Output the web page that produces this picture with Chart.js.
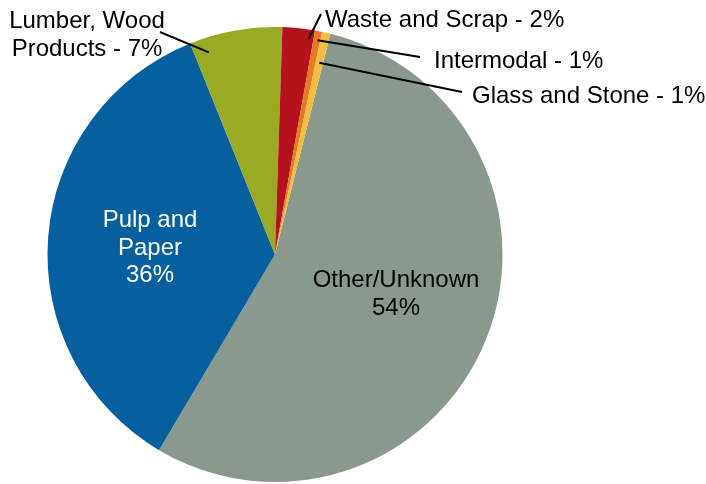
<!DOCTYPE html>
<html>
<head>
<meta charset="utf-8">
<script src="https://cdn.jsdelivr.net/npm/chart.js@4/dist/chart.umd.min.js"></script>
<style>
  html, body { margin: 0; padding: 0; background: #fff; }
  #wrap { width: 706px; height: 484px; }
</style>
</head>
<body>
<div id="wrap"><canvas id="graficoPizza"></canvas></div>
<script>
// categorias e valores (percentual)
const categorias = ["Other/Unknown", "Pulp and Paper", "Lumber, Wood Products", "Waste and Scrap", "Intermodal", "Glass and Stone"];
const valores = [54.6, 35.4, 6.6, 2.3, 0.5, 0.6];
const rotulos = ["54%", "36%", "7%", "2%", "1%", "1%"];
const cores = ["#8A998D", "#0660A0", "#9AAA22", "#B5121D", "#E8791E", "#F2BE3C"];

const FONTE = '24px "Liberation Sans", Arial, sans-serif';

// posicao dos textos (x, linhas de base) e ancora da linha guia no setor
const rotulosCfg = [
  { lines: ["Other/Unknown", "54%"], x: 396, y: 287, align: "center", color: "#000" },
  { lines: ["Pulp and", "Paper", "36%"], x: 150, y: 227, align: "center", color: "#fff" },
  { lines: ["Lumber, Wood", "Products - 7%"], x: 87, y: 28, align: "center", color: "#000",
    leader: { frac: 0.16, r: 0.935, to: [160, 32] } },
  { lines: ["Waste and Scrap - 2%"], x: 325, y: 27, align: "left", color: "#000",
    leader: { frac: 0.85, r: 0.96, to: [321, 14] } },
  { lines: ["Intermodal - 1%"], x: 434, y: 68, align: "left", color: "#000",
    leader: { frac: 0.6, r: 0.96, to: [420, 57] } },
  { lines: ["Glass and Stone - 1%"], x: 472, y: 103, align: "left", color: "#000",
    leader: { frac: 0.5, r: 0.865, to: [462, 92] } },
];

const rotulosPlugin = {
  id: "rotulos",
  afterDatasetsDraw(chart) {
    const ctx = chart.ctx;
    const arcs = chart.getDatasetMeta(0).data;
    ctx.save();
    ctx.font = FONTE;
    rotulosCfg.forEach((c, i) => {
      if (c.leader) {
        const a = arcs[i];
        const p = a.getProps(["x", "y", "startAngle", "endAngle", "outerRadius"], true);
        const ang = p.startAngle + (p.endAngle - p.startAngle) * c.leader.frac;
        const r = p.outerRadius * c.leader.r;
        ctx.beginPath();
        ctx.moveTo(p.x + Math.cos(ang) * r, p.y + Math.sin(ang) * r);
        ctx.lineTo(c.leader.to[0], c.leader.to[1]);
        ctx.strokeStyle = "#000";
        ctx.lineWidth = 2;
        ctx.stroke();
      }
      ctx.fillStyle = c.color;
      ctx.textAlign = c.align;
      ctx.textBaseline = "alphabetic";
      c.lines.forEach((t, k) => ctx.fillText(t, c.x, c.y + k * 27.5));
    });
    ctx.restore();
  },
};

const graficoPizza = document.getElementById("graficoPizza");
new Chart(graficoPizza, {
  type: "pie",
  data: {
    labels: categorias,
    datasets: [
      {
        label: "Share",
        data: valores,
        backgroundColor: cores,
        borderWidth: 0,
      },
    ],
  },
  options: {
    responsive: true,
    maintainAspectRatio: false,
    animation: false,
    rotation: 14.1,
    layout: { padding: { left: 47, right: 203, top: 27, bottom: 2 } },
    plugins: {
      legend: { display: false },
      tooltip: { enabled: false },
    },
  },
  plugins: [rotulosPlugin],
});
</script>
</body>
</html>
